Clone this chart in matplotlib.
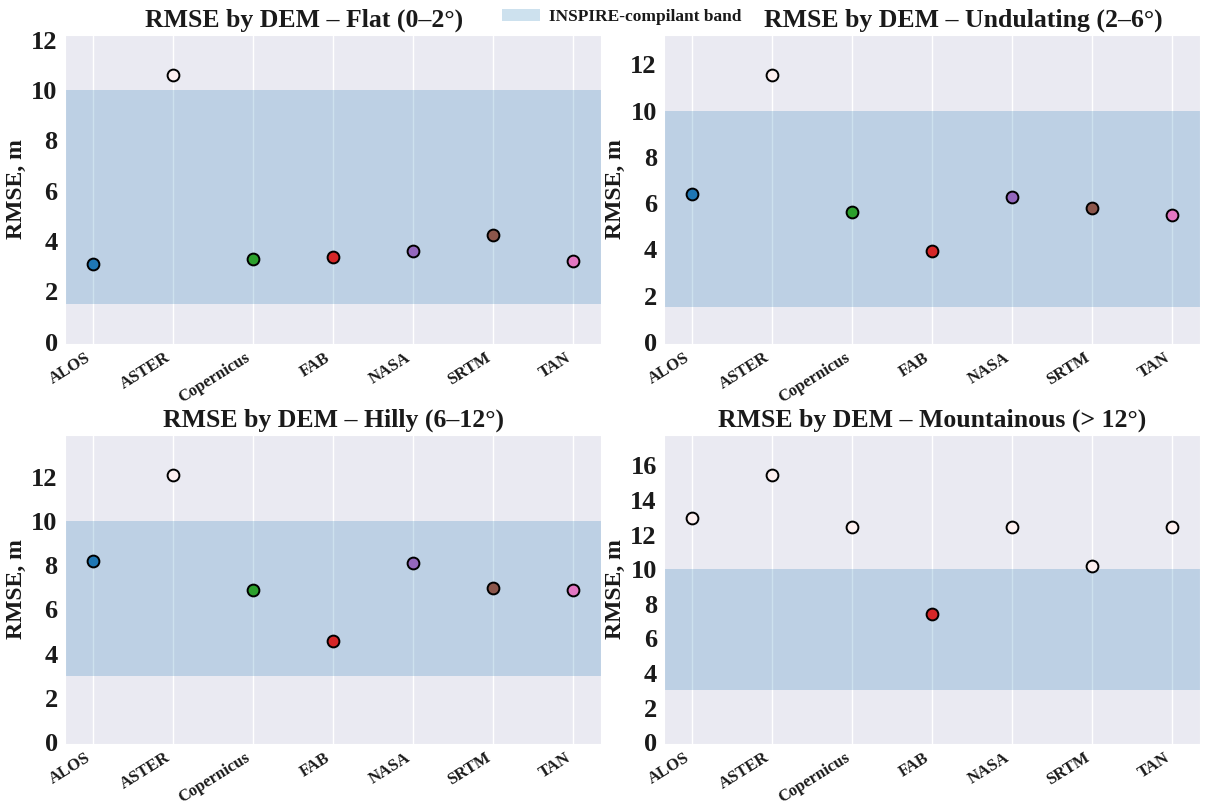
import matplotlib
matplotlib.use('Agg')
import matplotlib.pyplot as plt
import seaborn as sns
from matplotlib.ticker import MultipleLocator
from matplotlib.patches import Patch

# Данные
dems = ['ALOS', 'ASTER', 'Copernicus', 'FAB', 'NASA', 'SRTM', 'TAN']
titles = ['RMSE by DEM – Flat (0–2°)', 'RMSE by DEM – Undulating (2–6°)',
          'RMSE by DEM – Hilly (6–12°)', 'RMSE by DEM – Mountainous (> 12°)']
rmse_flat = [3.1, 10.6, 3.3, 3.35, 3.6, 4.25, 3.2]
rmse_undulating = [6.4, 11.55, 5.6, 3.92, 6.25, 5.78, 5.5]
rmse_hilly = [8.2, 12.1, 6.9, 4.55, 8.1, 6.95, 6.9]
rmse_mountainous = [12.95, 15.45, 12.45, 7.4, 12.45, 10.2, 12.45]
band_low = [1.5, 1.5, 3.0, 3.0]
band_high = [10.0, 10.0, 10.0, 10.0]

series = [rmse_flat, rmse_undulating, rmse_hilly, rmse_mountainous]
dem_colors = ['tab:blue', 'tab:orange', 'tab:green', 'tab:red',
              'tab:purple', 'tab:brown', 'tab:pink']
out_color = '#fdf0f0'
band_color = 'tab:blue'
textcolor = '#1a1a1a'
# сдвиг заголовков верхнего ряда, чтобы освободить место под легенду
title_x = [0.445, 0.557, 0.5, 0.5]

sns.set_style('darkgrid')
plt.rcParams['font.family'] = ['Liberation Serif', 'DejaVu Serif']
plt.rcParams['font.weight'] = 'bold'
plt.rcParams['text.color'] = textcolor
plt.rcParams['axes.labelcolor'] = textcolor
plt.rcParams['xtick.color'] = textcolor
plt.rcParams['ytick.color'] = textcolor

fig, axes = plt.subplots(2, 2, figsize=(12.1, 8.1), dpi=100)
fig.subplots_adjust(left=0.054, right=0.992, top=0.957, bottom=0.082,
                    wspace=0.118, hspace=0.295)

for ax, title, vals, lo, hi, tx in zip(axes.flat, titles, series,
                                       band_low, band_high, title_x):
    ax.axhspan(lo, hi, color=band_color, alpha=0.22, lw=0, zorder=1)
    for i, v in enumerate(vals):
        fc = dem_colors[i] if lo <= v <= hi else out_color
        ax.scatter(i, v, s=72, color=fc, edgecolor='black', linewidth=1.4, zorder=3)
    ax.set_xlim(-0.35, len(dems) - 0.65)
    ax.set_ylim(-0.08, max(vals) * 1.15)
    ax.yaxis.set_major_locator(MultipleLocator(2))
    ax.yaxis.grid(False)
    ax.xaxis.grid(True, color='white', lw=1.0)
    ax.set_xticks(range(len(dems)))
    ax.set_xticklabels(dems, rotation=32, ha='right', fontsize=12, fontweight='bold')
    ax.tick_params(axis='x', pad=1)
    ax.tick_params(axis='y', labelsize=19, pad=2)
    for lab in ax.get_yticklabels():
        lab.set_fontweight('bold')
    ax.set_ylabel('RMSE, m', fontsize=17, fontweight='bold', labelpad=3)
    ax.set_title(title, fontsize=18.5, fontweight='bold', pad=6, x=tx)

fig.legend(handles=[Patch(facecolor=band_color, alpha=0.22, edgecolor='none',
                          label='INSPIRE-compilant band')],
           loc='upper center', bbox_to_anchor=(0.514, 1.008), frameon=False,
           prop={'size': 12.5, 'weight': 'bold'}, handlelength=2.2,
           handletextpad=0.5)

plt.savefig('out.png', dpi=100)
plt.close()
